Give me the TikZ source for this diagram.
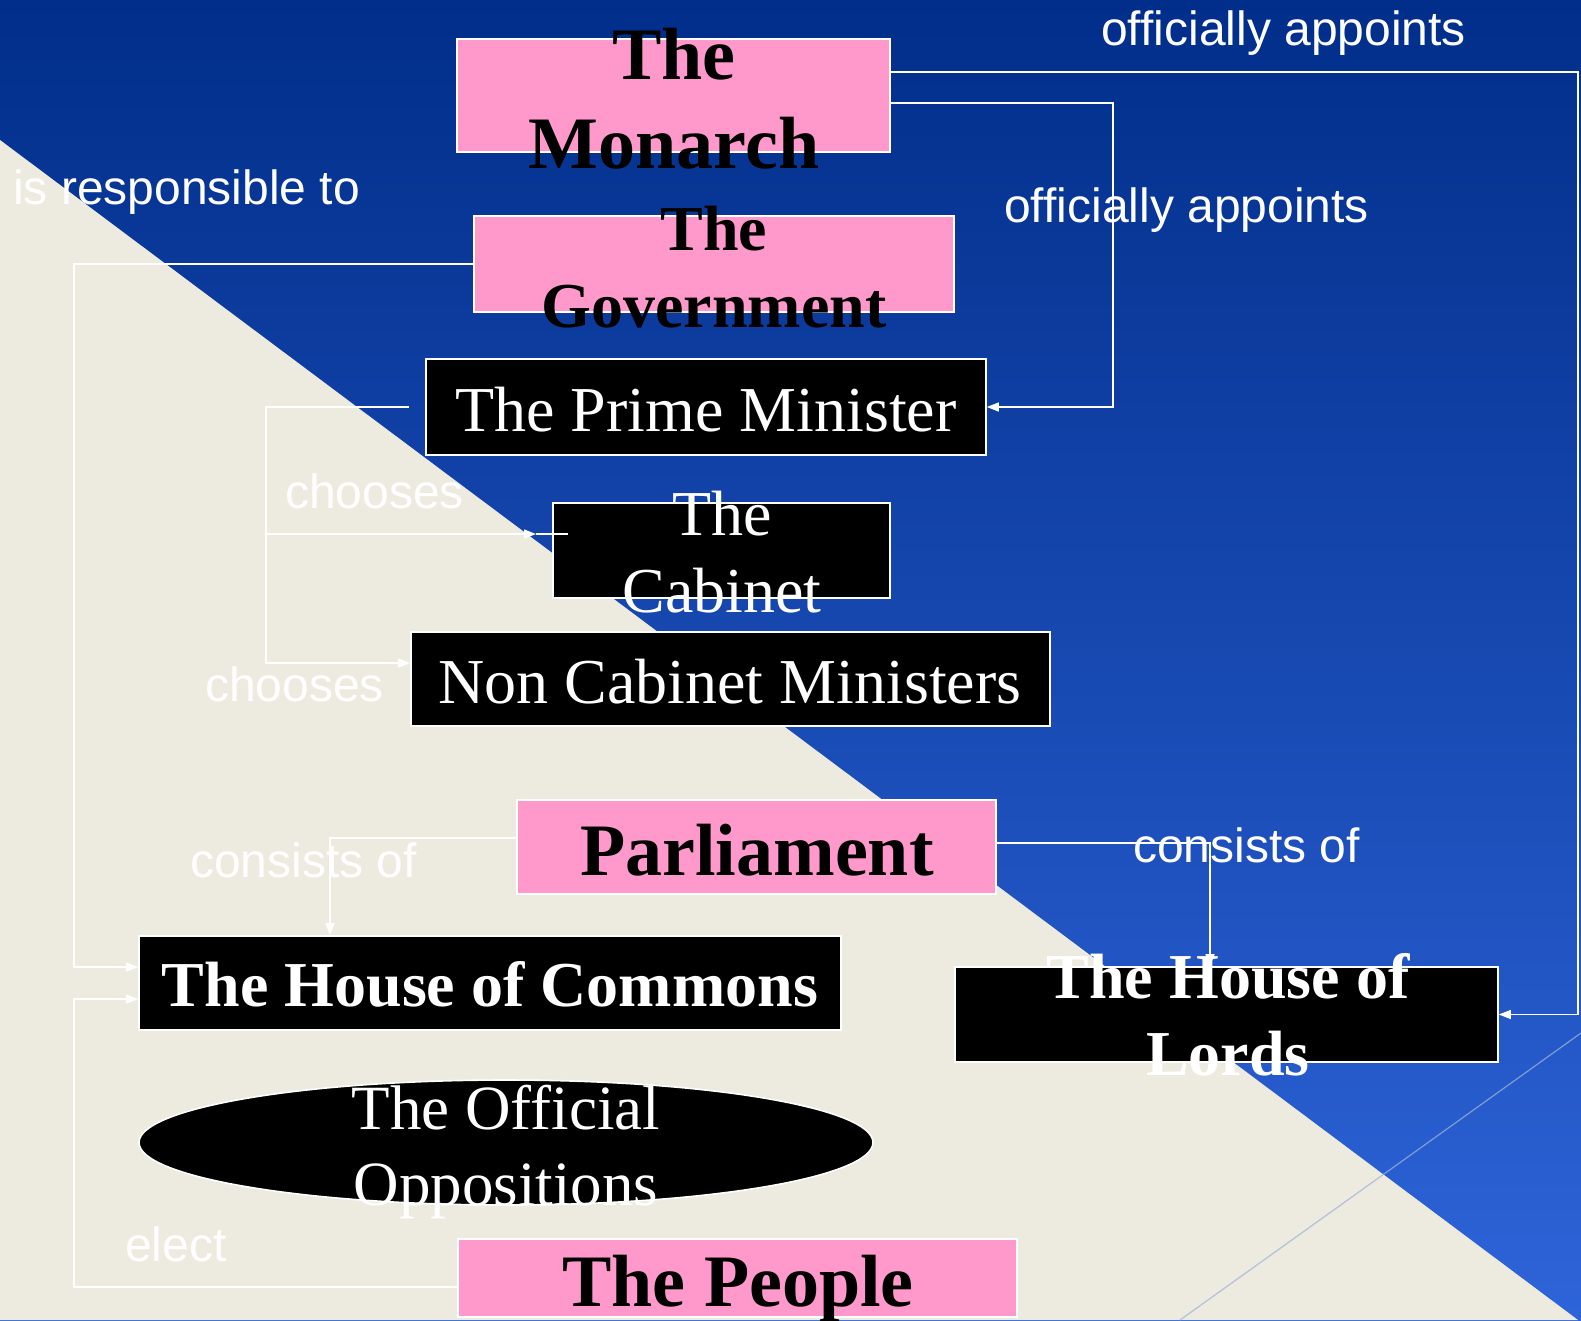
\documentclass[tikz,border=0pt]{standalone}
\usepackage{fontspec}
\setmainfont{Liberation Serif}
\newfontfamily\lsans{Liberation Sans}
\usetikzlibrary{arrows.meta,shapes.geometric}
\definecolor{bgtop}{RGB}{1,46,138}
\definecolor{bgmid}{RGB}{0,56,162}
\definecolor{bgbot}{RGB}{46,100,217}
\definecolor{beige}{RGB}{237,234,224}
\definecolor{pinkfill}{RGB}{255,153,204}
\definecolor{thinline}{RGB}{160,178,215}
\begin{document}
\begin{tikzpicture}[x=1pt,y=-1pt,
  pinkbox/.style={draw=white,line width=1.6pt,fill=pinkfill,inner sep=0pt},
  blackbox/.style={draw=white,line width=1.6pt,fill=black,inner sep=0pt},
  ovalbox/.style={draw=white,line width=1.6pt,fill=black,ellipse,inner sep=0pt},
  tbbig/.style={font=\fontsize{74}{89}\selectfont\bfseries,inner sep=0pt,align=center},
  tbmid/.style={font=\fontsize{64}{77}\selectfont\bfseries,inner sep=0pt,align=center},
  trmid/.style={font=\fontsize{64}{77}\selectfont,inner sep=0pt,align=center},
  lbl/.style={font=\lsans\fontsize{48}{57}\selectfont,text=white,inner sep=0pt,anchor=base west},
  conn/.style={draw=white,line width=1.4pt},
  arr/.style={conn,-{Triangle[length=12pt,width=9pt]}}
]
\useasboundingbox (0,0) rectangle (1581,1320);
% background
\shade[top color=bgtop,middle color=bgmid,bottom color=bgbot] (0,0) rectangle (1581,1320);
\fill[beige] (0,140) -- (1578,1320) -- (0,1320) -- cycle;
\draw[thinline,opacity=0.75,line width=1.2pt] (1180,1320) -- (1581,1033);

% boxes
\node[pinkbox,minimum width=433pt,minimum height=113pt] (monarch) at (673.5,95.5) {};
\node[pinkbox,minimum width=480pt,minimum height=96pt] (gov) at (714,264) {};
\node[blackbox,minimum width=560pt,minimum height=96pt] (pm) at (706,407) {};
\node[blackbox,minimum width=337pt,minimum height=95pt] (cabinet) at (721.5,550.5) {};
\node[blackbox,minimum width=639pt,minimum height=94pt] (noncab) at (730.5,679) {};
\node[pinkbox,minimum width=479pt,minimum height=94pt] (parl) at (756.5,847) {};
\node[blackbox,minimum width=702pt,minimum height=94pt] (commons) at (490,983) {};
\node[blackbox,minimum width=543pt,minimum height=95pt] (lords) at (1226.5,1014.5) {};
\node[ovalbox,minimum width=734pt,minimum height=125pt] (opp) at (506,1142.5) {};
\node[pinkbox,minimum width=559pt,minimum height=78pt] (people) at (737.5,1278) {};

% connectors
\draw[arr] (monarch.east |- 0,72) -- (1578,72) |- (lords.east);
\draw[arr] (monarch.east |- 0,103) -- (1113,103) |- (pm.east);
\draw[arr] (gov.west) -- (74,264) |- (commons.west |- 0,967);
\draw[arr] ([xshift=-16pt]pm.west) -- (266,407) |- (noncab.west |- 0,663);
\coordinate (cabtip) at (536,534);
\draw[arr] (266,534) -- (cabtip);
\draw[conn] (cabtip) -- ([xshift=16pt]cabinet.west |- 0,534);
\draw[arr] (parl.west |- 0,838) -- (330,838) -- (330,0 |- commons.north);
\draw[arr] (parl.east |- 0,843) -- (1210,843) -- (1210,0 |- lords.north);
\draw[arr] (people.west |- 0,1287) -- (74,1287) |- (commons.west |- 0,999);

% texts
\node[tbbig,text=black] (monarchtxt) at (674,99) {The\\Monarch};
\node[tbmid,text=black] (govtxt) at (714,267) {The\\Government};
\node[trmid,text=white,anchor=base] (pmtxt) at (706,431) {The Prime Minister};
\node[trmid,text=white] (cabtxt) at (722,552) {The\\Cabinet};
\node[trmid,text=white,anchor=base] (noncabtxt) at (730,703) {Non Cabinet Ministers};
\node[tbbig,text=black,anchor=base] (parltxt) at (757,875) {Parliament};
\node[tbmid,text=white,anchor=base] (commonstxt) at (490,1006) {The House of Commons};
\node[tbmid,text=white] (lordstxt) at (1228,1015) {The House of\\Lords};
\node[font=\fontsize{63}{76}\selectfont,inner sep=0pt,align=center,text=white] (opptxt) at (506,1152) {The Official\\Oppositions};
\node[tbbig,text=black,anchor=base] (peopletxt) at (738,1306) {The People};

% labels
\node[lbl] (l1) at (1101,45) {officially appoints};
\node[lbl] (l2) at (1004,222) {officially appoints};
\node[lbl] (l3) at (13,204) {is responsible to};
\node[lbl] (l4) at (285,508) {chooses};
\node[lbl] (l5) at (205,701) {chooses};
\node[lbl] (l6) at (190,877) {consists of};
\node[lbl] (l7) at (1133,862) {consists of};
\node[lbl] (l8) at (125,1261) {elect};
\end{tikzpicture}
\end{document}
